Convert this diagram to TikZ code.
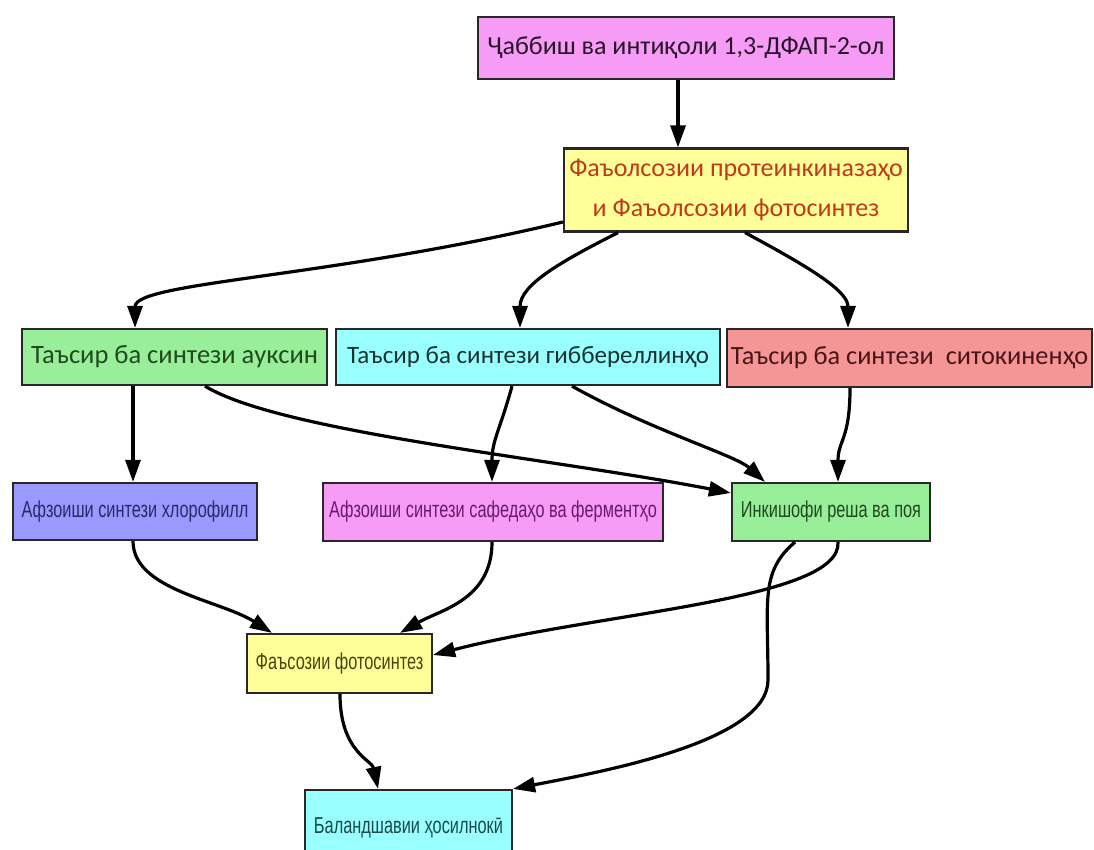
\documentclass[tikz,border=0pt]{standalone}
\usepackage{fontspec}
\setmainfont{Carlito}
\newfontfamily\narrowfont[FakeStretch=0.71]{Liberation Sans}
\usetikzlibrary{arrows.meta}
\definecolor{boxline}{RGB}{40,40,40}
\definecolor{fpink}{RGB}{246,156,246}
\definecolor{fyellow}{RGB}{255,255,153}
\definecolor{fgreen}{RGB}{153,238,153}
\definecolor{fcyan}{RGB}{153,255,255}
\definecolor{fsalmon}{RGB}{244,150,150}
\definecolor{fblue}{RGB}{153,153,255}
\definecolor{tdark}{RGB}{40,20,40}
\definecolor{tred}{RGB}{192,58,26}
\definecolor{tgreen}{RGB}{30,74,30}
\definecolor{tteal}{RGB}{25,50,50}
\definecolor{tbrown}{RGB}{74,21,21}
\definecolor{tnavy}{RGB}{42,42,106}
\definecolor{tpurple}{RGB}{106,26,106}
\definecolor{tolive}{RGB}{70,70,16}
\definecolor{tcyan}{RGB}{26,74,74}
\begin{document}
\begin{tikzpicture}[x=1pt,y=-1pt,
  box/.style={draw=boxline, line width=2.2pt, inner sep=0pt, align=center},
  bigtext/.style={font=\fontsize{26}{30}\selectfont},
  smalltext/.style={font=\narrowfont\fontsize{23}{27}\selectfont},
  conn/.style={line width=3.2pt, -{Triangle[length=22pt,width=15pt]}}
]
\useasboundingbox (0,0) rectangle (1094,850);
\clip (0,0) rectangle (1094,850);
% boxes
\node[box, bigtext, fill=fpink, text=tdark, minimum width=416pt, minimum height=62pt] (top) at (686,48) {Ҷаббиш ва интиқоли 1,3-ДФАП-2-ол};
\node[box, fill=fyellow, text=tred, minimum width=344pt, minimum height=83pt, font=\fontsize{26}{40}\selectfont] (act) at (736,190) {Фаъолсозии протеинкиназаҳо\\и Фаъолсозии фотосинтез};
\node[box, fill=fgreen, text=tgreen, minimum width=305pt, minimum height=56pt, font=\fontsize{26.5}{30}\selectfont] (aux) at (174.5,357) {Таъсир ба синтези ауксин};
\node[box, fill=fcyan, text=tteal, minimum width=384pt, minimum height=56pt, font=\fontsize{25}{30}\selectfont] (gib) at (528,357) {Таъсир ба синтези гиббереллинҳо};
\node[box, fill=fsalmon, text=tbrown, minimum width=365pt, minimum height=58pt, font=\fontsize{26.3}{30}\selectfont] (cyt) at (909.5,358) {Таъсир ба синтези\ \ ситокиненҳо};
\node[box, smalltext, fill=fblue, text=tnavy, minimum width=244pt, minimum height=57pt] (chl) at (135,511.5) {Афзоиши синтези хлорофилл};
\node[box, smalltext, fill=fpink, text=tpurple, minimum width=340pt, minimum height=58pt] (prot) at (493,512) {Афзоиши синтези сафедаҳо ва ферментҳо};
\node[box, smalltext, fill=fgreen, text=tgreen, minimum width=198pt, minimum height=58pt] (root) at (831,512) {Инкишофи реша ва поя};
\node[box, smalltext, fill=fyellow, text=tolive, minimum width=185pt, minimum height=59pt] (pho) at (339.5,663.5) {Фаъсозии фотосинтез};
\node[box, fill=fcyan, minimum width=207pt, minimum height=80pt] (yld) at (408.5,830) {};
\node[smalltext, text=tcyan] (yldt) at (408.5,828) {Баландшавии ҳосилнокӣ};
% connectors
\draw[conn] (top.south -| 678,0) -- (act.north -| 678,0);
\draw[conn] (act.west |- 0,222) .. controls (330,278) and (135,282) .. (aux.north -| 135,0);
\draw[conn] (act.south -| 618,0) .. controls (560,262) and (520,285) .. (gib.north -| 520,0);
\draw[conn] (act.south -| 745,0) .. controls (805,265) and (848,290) .. (cyt.north -| 848,0);
\draw[conn] (aux.south -| 133,0) -- (chl.north -| 133,0);
\draw[conn] (aux.south -| 205,0) .. controls (280,432) and (550,458) .. (root.west |- 0,493);
\draw[conn] (gib.south -| 512,0) .. controls (500,430) and (492,440) .. (prot.north -| 492,0);
\draw[conn] (gib.south -| 572,0) .. controls (650,430) and (735,455) .. (root.north -| 765,0);
\draw[conn] (cyt.south -| 850,0) .. controls (850,440) and (838,440) .. (root.north -| 838,0);
\draw[conn] (chl.south -| 133,0) .. controls (133,590) and (220,600) .. (pho.north -| 272,0);
\draw[conn] (prot.south -| 492,0) .. controls (492,600) and (440,610) .. (pho.north -| 400,0);
\draw[conn] (root.south -| 838,0) .. controls (842,600) and (600,612) .. (pho.east |- 0,655);
\draw[conn] (root.south -| 795,0) .. controls (760,572) and (768,600) .. (768,680) .. controls (768,742) and (600,772) .. (yld.north east);
\draw[conn] (pho.south -| 340,0) .. controls (340,752) and (372,760) .. (yld.north -| 378,0);
\end{tikzpicture}
\end{document}
